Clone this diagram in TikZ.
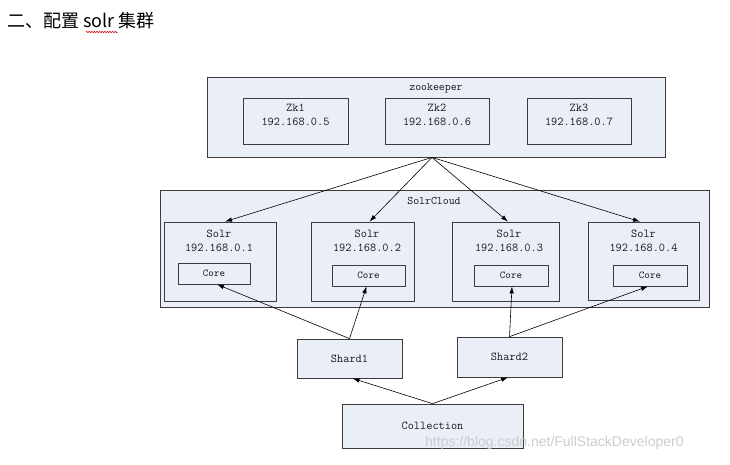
\documentclass[tikz,border=0pt]{standalone}
\usepackage{fontspec}
\usetikzlibrary{arrows.meta,fit,decorations.pathmorphing}
\newfontfamily\cjkfont{Noto Sans CJK SC}
\newfontfamily\wmfont{Liberation Sans}
\definecolor{boxfill}{RGB}{233,238,247}
\definecolor{edgecol}{RGB}{60,60,60}
\tikzset{
  box/.style={draw=edgecol, fill=boxfill, line width=0.75pt, inner sep=0pt},
  txt/.style={font=\ttfamily\fontsize{12}{14}\selectfont, align=center, inner sep=0pt, text=black!90},
  small/.style={font=\ttfamily\fontsize{10.5}{12}\selectfont, inner sep=0pt, text=black!90},
  conn/.style={line width=0.6pt, -{Latex[length=7pt,width=4.5pt]}}
}
\begin{document}
\begin{tikzpicture}[x=1pt,y=-1pt]
\useasboundingbox (0,0) rectangle (730,464);
% title
\node[anchor=west, inner sep=0pt, font=\cjkfont\fontsize{18}{20}\selectfont] (title) at (7,21) {二、配置 solr 集群};
\draw[red!85!black, line width=0.5pt, decoration={zigzag, segment length=2.6pt, amplitude=0.8pt}, decorate] (86,32) -- (118,32);
% zookeeper
\node[box, fit={(207,77) (665,157)}] (zk) {};
\node[small, font=\ttfamily\fontsize{11.5}{12}\selectfont] (zklab) at (436,88) {zookeeper};
\node[box, fit={(243,98) (348,144)}] (zk1) {};
\node[box, fit={(385,98) (489,144)}] (zk2) {};
\node[box, fit={(527,98) (631,144)}] (zk3) {};
\node[txt] (zk1t) at (295.5,115) {Zk1\\192.168.0.5};
\node[txt] (zk2t) at (437,115) {Zk2\\192.168.0.6};
\node[txt] (zk3t) at (579,115) {Zk3\\192.168.0.7};
% SolrCloud
\node[box, fit={(160,190) (709,307)}] (cloud) {};
\node[small, font=\ttfamily\fontsize{11.5}{12}\selectfont] (cloudlab) at (434,201) {SolrCloud};
\node[box, fit={(164,222) (276,301)}] (solr1) {};
\node[box, fit={(311,222) (414,301)}] (solr2) {};
\node[box, fit={(452,222) (559,301)}] (solr3) {};
\node[box, fit={(588,222) (699,300)}] (solr4) {};
\node[txt] (s1t) at (219,241) {Solr\\192.168.0.1};
\node[txt] (s2t) at (367,241) {Solr\\192.168.0.2};
\node[txt] (s3t) at (509,241) {Solr\\192.168.0.3};
\node[txt] (s4t) at (643.5,241) {Solr\\192.168.0.4};
\node[box, fit={(178,263) (250,284)}] (core1) {};
\node[box, fit={(332,265) (405,286)}] (core2) {};
\node[box, fit={(474,265) (548,286)}] (core3) {};
\node[box, fit={(613,265) (687,286)}] (core4) {};
\node[small] at (core1.center) {Core};
\node[small] at (core2.center) {Core};
\node[small] at (core3.center) {Core};
\node[small] at (core4.center) {Core};
% shards and collection
\node[box, fit={(297,339) (402,378)}] (shard1) {};
\node[box, fit={(457,337) (562,377)}] (shard2) {};
\node[box, fit={(342,404) (523,448)}] (coll) {};
\node[txt] at (shard1.center) {Shard1};
\node[txt] at (shard2.center) {Shard2};
\node[txt] at (coll.center) {Collection};
% connectors
\coordinate (zkb) at ([xshift=-4pt]zk.south);
\draw[conn] (zkb) -- ([xshift=5pt]solr1.north);
\draw[conn] (zkb) -- ([xshift=7pt]solr2.north);
\draw[conn] (zkb) -- ([xshift=2.5pt]solr3.north);
\draw[conn] (zkb) -- ([xshift=-3.5pt]solr4.north);
\draw[conn] (coll.north) -- ([xshift=3pt]shard1.south);
\draw[conn] (coll.north) -- ([xshift=-1.5pt]shard2.south);
\draw[conn] (shard1.north) -- ([xshift=3pt]core1.south);
\draw[conn] (shard1.north) -- ([xshift=-2pt]core2.south);
\draw[conn] (shard2.north) -- ([xshift=1pt]core3.south);
\draw[conn] (shard2.north) -- ([xshift=-2pt]core4.south);
% watermark
\node[anchor=west, inner sep=0pt, font=\wmfont\fontsize{14}{16}\selectfont, text=gray!40] (wm) at (425,443) {https://blog.csdn.net/FullStackDeveloper0};
\end{tikzpicture}
\end{document}
